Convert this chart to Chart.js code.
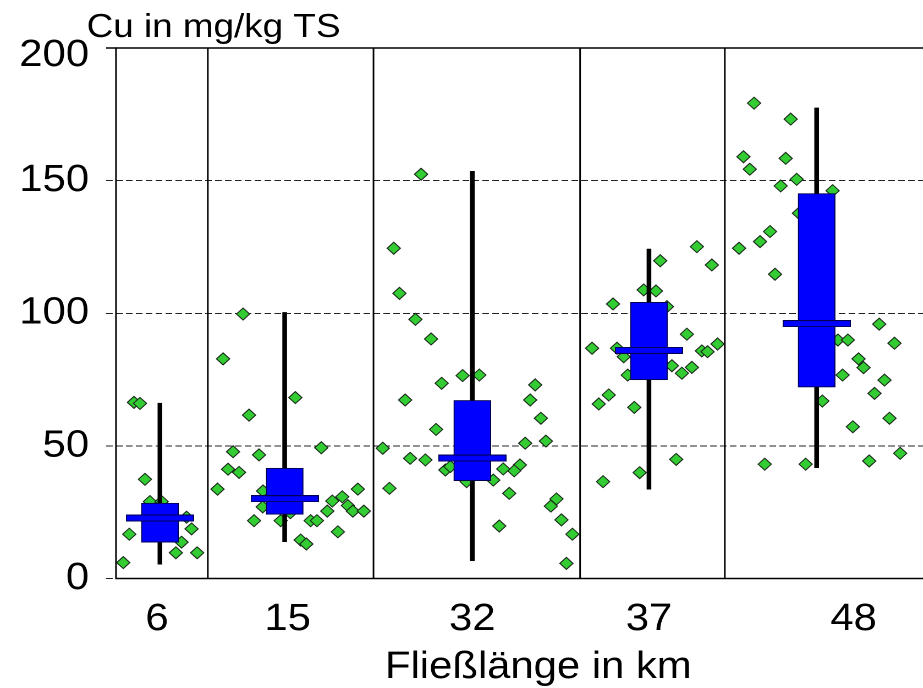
<!DOCTYPE html>
<html>
<head>
<meta charset="utf-8">
<script src="https://cdn.jsdelivr.net/npm/chart.js@4/dist/chart.umd.min.js"></script>
<style>
  html, body { margin: 0; padding: 0; width: 923px; height: 688px; overflow: hidden; background: #fff; }
  /* the drawing is widened by 10 % to get the wide-set lettering of the axes */
  #wrap { width: 900px; height: 688px; transform: scaleX(1.1); transform-origin: 0 0; }
  canvas { display: block; }
</style>
</head>
<body>
<div id="wrap"><canvas id="c" width="900" height="688" style="width:900px;height:688px"></canvas></div>
<script>
// Flow-distance classes on the x axis
const distanceKm = ['6', '15', '32', '37', '48'];

// Box statistics per class, Cu in mg/kg TS
const whiskerMin = [5.4, 13.9, 6.7, 33.7, 41.8];
const quartile1  = [13.7, 24.2, 36.9, 74.9, 72.2];
const medianCu   = [22.8, 30.1, 45.4, 86.0, 96.1];
const quartile3  = [28.4, 41.6, 67.1, 104.1, 145.1];
const whiskerMax = [66.1, 100.3, 153.5, 124.2, 177.4];

// Single samples per class, Cu in mg/kg TS
const cu6km  = [66.4, 66.0, 37.4, 29.0, 29.0, 23.1, 18.7, 16.7, 13.7, 9.7, 9.7, 6.0];
const cu15km = [99.7, 82.8, 68.2, 61.6, 49.3, 47.8, 46.6, 41.2, 40.0, 33.7, 33.0, 27.0, 21.8, 21.8,
                24.8, 33.7, 30.8, 29.2, 27.5, 25.4, 25.4, 25.4, 21.8, 21.8, 17.6, 14.5, 13.0];
const cu32km = [152.4, 124.5, 107.5, 97.7, 90.3, 76.5, 76.7, 73.6, 67.3, 56.2, 49.1, 45.3, 44.7, 40.9,
                42.2, 36.5, 34.0, 73.0, 67.3, 60.4, 51.0, 51.8, 42.8, 40.6, 41.3, 37.1, 32.1, 19.8,
                30.0, 27.3, 22.1, 16.7, 5.7];
const cu37km = [125.1, 119.8, 118.2, 108.8, 108.4, 103.5, 102.5, 92.1, 86.8, 86.8, 83.6, 85.8, 85.5,
                88.4, 80.2, 77.4, 79.6, 76.7, 69.2, 65.8, 64.5, 44.9, 39.9, 36.5];
const cu48km = [179.2, 173.2, 159.0, 154.3, 158.4, 150.5, 148.0, 137.7, 130.8, 127.0, 124.5, 114.7,
                66.9, 43.1, 43.1, 146.2, 95.9, 89.9, 89.9, 88.7, 82.8, 79.5, 76.7, 74.8, 69.8, 60.4,
                57.2, 47.2, 44.3];

// Value axis ticks
const yTicks = [0, 50, 100, 150, 200];

// ---- layout of the class axis (0 .. AXIS_SPAN layout units) ----
const AXIS_SPAN = 86.8;
const bandEdges = [9.2, 25.8, 46.5, 61.0];          // separators between the classes
const boxPos    = [4.4, 16.9, 35.7, 53.4, 70.2];    // centre of each box
const labelPos  = [4.1, 17.2, 35.7, 53.4, 73.9];    // class labels
// spread of the single samples inside each class band
const spread6km  = [1.80, 2.40, 2.90, 3.40, 4.57, 7.07, 7.57, 1.33, 6.57, 6.00, 8.13, 0.73];
const spread15km = [12.73, 10.73, 17.97, 13.33, 20.57, 11.73, 14.33, 11.23, 12.33, 10.17, 14.73, 14.70,
                    13.83, 16.50, 17.47, 24.23, 22.67, 21.67, 23.23, 23.73, 24.83, 21.17, 19.50, 20.13,
                    22.23, 18.50, 19.07];
const spread32km = [30.57, 27.83, 28.40, 30.00, 31.57, 34.73, 36.40, 32.63, 28.97, 32.07, 26.73, 29.47,
                    31.00, 33.00, 33.50, 35.13, 27.40, 42.00, 41.50, 42.57, 41.00, 43.07, 40.47, 39.90,
                    38.80, 37.80, 39.40, 38.40, 44.13, 43.57, 44.63, 45.73, 45.13];
const spread37km = [58.20, 54.53, 59.70, 52.87, 54.10, 49.80, 55.20, 57.20, 47.70, 50.20, 50.87, 58.70,
                    59.27, 60.27, 55.70, 56.70, 57.70, 51.27, 49.37, 48.37, 51.93, 56.13, 52.47, 48.80];
const spread48km = [63.93, 67.60, 62.87, 63.50, 67.10, 68.20, 66.60, 68.43, 65.53, 64.53, 62.43, 66.03,
                    70.77, 65.00, 69.10, 71.80, 76.47, 72.33, 73.33, 78.00, 74.40, 74.90, 72.80, 77.00,
                    76.00, 77.50, 73.83, 78.57, 75.47];

const FONT = '"Liberation Sans", Arial, Helvetica, sans-serif';
Chart.defaults.font.family = FONT;
Chart.defaults.color = '#000';

const samplePoints = [];
[[spread6km, cu6km], [spread15km, cu15km], [spread32km, cu32km], [spread37km, cu37km], [spread48km, cu48km]]
  .forEach(([xs, vs]) => xs.forEach((x, i) => samplePoints.push({ x, y: vs[i] })));

const whiskerBars = boxPos.map((x, i) => ({ x, y: [whiskerMin[i], whiskerMax[i]] }));
const quartileBars = boxPos.map((x, i) => ({ x, y: [quartile1[i], quartile3[i]] }));
const medianPoints = boxPos.map((x, i) => ({ x, y: medianCu[i] }));

// frame, class separators and axis texts
const framePlugin = {
  id: 'frame',
  beforeDatasetsDraw(chart) {
    const { ctx, chartArea: a, scales: { x } } = chart;
    ctx.save();
    ctx.strokeStyle = '#000';
    ctx.lineWidth = 1.5;
    ctx.beginPath();
    bandEdges.forEach(v => {
      const px = x.getPixelForValue(v);
      ctx.moveTo(px, a.top);
      ctx.lineTo(px, a.bottom);
    });
    ctx.stroke();
    ctx.strokeRect(a.left, a.top, a.right - a.left, a.bottom - a.top);
    ctx.beginPath();
    ctx.moveTo(a.left - 9, a.top);
    ctx.lineTo(a.left, a.top);
    ctx.stroke();
    ctx.restore();
  },
  afterDraw(chart) {
    const { ctx, chartArea: a, scales: { y } } = chart;
    ctx.save();
    ctx.fillStyle = '#000';
    ctx.font = '38px ' + FONT;
    ctx.textAlign = 'right';
    ctx.textBaseline = 'middle';
    y.ticks.forEach(t => {
      // the top label sits a little lower so it stays clear of the frame
      const py = y.getPixelForValue(t.value) + (t.value === y.max ? 7.5 : 0);
      ctx.fillText(String(t.value), a.left - 24.5, py);
    });
    ctx.textAlign = 'left';
    ctx.textBaseline = 'alphabetic';
    ctx.font = '33.5px ' + FONT;
    ctx.fillText('Cu in mg/kg TS', 78.7, 37);
    ctx.font = '38px ' + FONT;
    ctx.fillText('Flie\u00dfl\u00e4nge in km', 350, 678);
    ctx.restore();
  }
};

// flat bar used as the median marker
const medSrc = document.createElement('canvas');
medSrc.width = 124; medSrc.height = 14;
const mctx = medSrc.getContext('2d');
mctx.fillStyle = '#0000ff';
mctx.fillRect(0, 0, 124, 14);
mctx.strokeStyle = '#000050';
mctx.lineWidth = 2;
mctx.strokeRect(1, 1, 122, 12);
const medianMark = new Image();
medianMark.width = 62;
medianMark.height = 7;
medianMark.onload = draw;
medianMark.src = medSrc.toDataURL();

function draw() {
  new Chart(document.getElementById('c'), {
    type: 'scatter',
    data: {
      datasets: [
        {
          type: 'scatter', label: 'Einzelwerte', data: samplePoints,
          pointStyle: 'rectRot', pointRadius: 6,
          backgroundColor: '#33cc33', borderColor: '#1a2a1a', borderWidth: 1, order: 4
        },
        {
          type: 'bar', label: 'Min/Max', data: whiskerBars,
          backgroundColor: '#000', borderWidth: 0, barThickness: 3.6, grouped: false, order: 3
        },
        {
          type: 'bar', label: 'Quartile', data: quartileBars,
          backgroundColor: '#0000ff', borderColor: '#000050', borderWidth: 1, borderSkipped: false,
          barThickness: 33.6, grouped: false, order: 2
        },
        {
          type: 'scatter', label: 'Median', data: medianPoints,
          pointStyle: medianMark, pointRadius: 5, order: 1
        }
      ]
    },
    options: {
      responsive: false,
      animation: false,
      devicePixelRatio: 2,
      events: [],
      layout: { padding: { top: 48, right: 5.5, left: 0, bottom: 0 } },
      plugins: { legend: { display: false }, tooltip: { enabled: false } },
      scales: {
        x: {
          type: 'linear', min: 0, max: AXIS_SPAN, offset: false,
          grid: { display: false, offset: false, drawTicks: false },
          border: { display: false },
          afterBuildTicks: ax => { ax.ticks = labelPos.map(v => ({ value: v })); },
          afterFit: ax => { ax.height = 109.5; },
          ticks: {
            autoSkip: false, maxRotation: 0, padding: 18, color: '#000',
            font: { size: 38 },
            callback: (v, i) => distanceKm[i]
          }
        },
        y: {
          type: 'linear', min: 0, max: 200,
          grid: { color: '#222', lineWidth: 1, tickLength: 9, tickBorderDash: [6, 3] },
          border: { display: false, dash: [6, 3] },
          afterBuildTicks: ax => { ax.ticks = yTicks.map(v => ({ value: v })); },
          afterFit: ax => { ax.width = 105.45; },
          ticks: { display: false }
        }
      }
    },
    plugins: [framePlugin]
  });
}
</script>
</body>
</html>
